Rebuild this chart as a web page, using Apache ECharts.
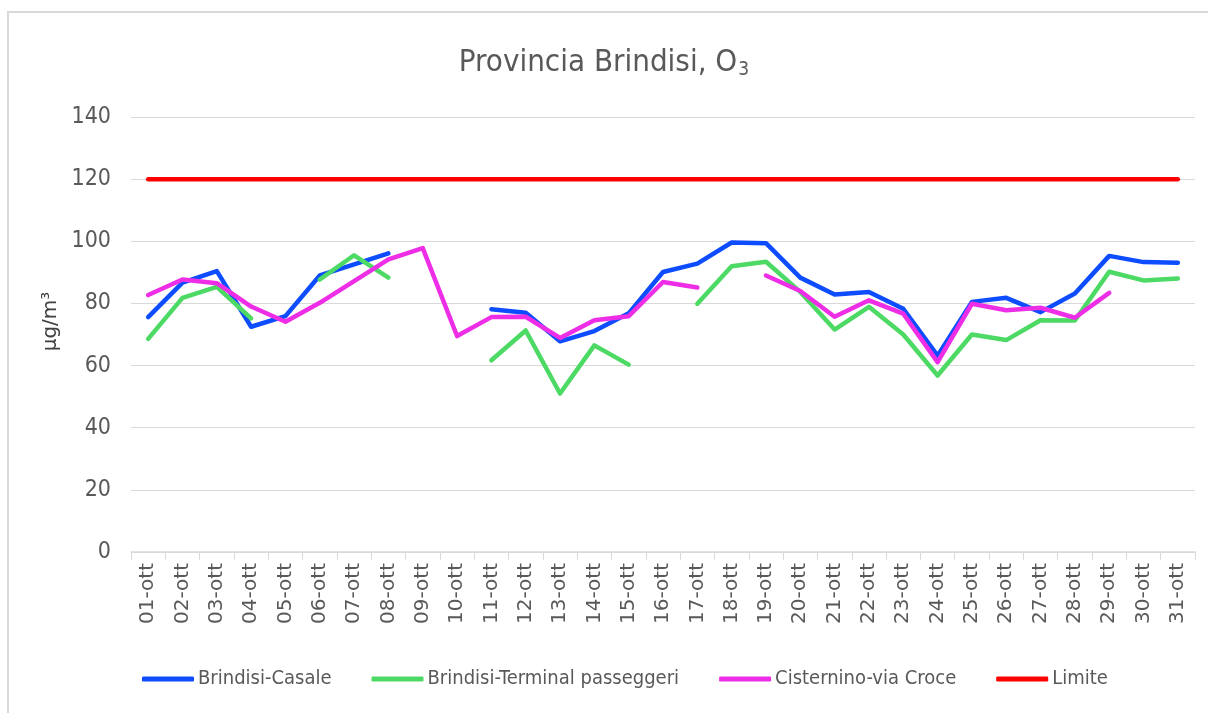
<!DOCTYPE html>
<html>
<head>
    <meta charset="utf-8">
    <title>Provincia Brindisi, O3</title>
    <script src="https://cdn.jsdelivr.net/npm/echarts@6/dist/echarts.min.js"></script>
    <style>
        html, body { margin: 0; padding: 0; background: #fff; }
        #main { width: 1208px; height: 713px; }
    </style>
</head>
<body>
<div id="main"></div>
<script type="text/javascript">
    // giorni di ottobre
    var days = ['01-ott', '02-ott', '03-ott', '04-ott', '05-ott', '06-ott', '07-ott', '08-ott', '09-ott', '10-ott',
        '11-ott', '12-ott', '13-ott', '14-ott', '15-ott', '16-ott', '17-ott', '18-ott', '19-ott', '20-ott',
        '21-ott', '22-ott', '23-ott', '24-ott', '25-ott', '26-ott', '27-ott', '28-ott', '29-ott', '30-ott', '31-ott'];

    var brindisiCasale = [75.6, 86.7, 90.4, 72.5, 75.9, 89, 92.6, 96.1, null, null,
        78.1, 77, 67.8, 71.1, 76.8, 90.1, 92.8, 99.6, 99.4, 88.3,
        82.9, 83.7, 78.3, 63.2, 80.5, 81.8, 77.2, 83.2, 95.3, 93.3, 93.1];

    var brindisiTerminal = [68.6, 81.8, 85.3, 75.2, null, 87.7, 95.5, 88.3, null, null,
        61.7, 71.3, 51, 66.5, 60.3, null, 79.9, 92, 93.4, 83.7,
        71.6, 78.9, 70, 56.8, 70, 68.2, 74.6, 74.5, 90.2, 87.4, 88];

    var cisternino = [82.7, 87.7, 86.5, 79, 74.1, 80.2, 87.2, 94.2, 97.8, 69.5,
        75.6, 75.7, 68.9, 74.6, 75.9, 86.9, 85.1, null, 89, 84,
        75.7, 81, 76.7, 61.1, 79.9, 77.8, 78.6, 75.4, 83.4, null, null];

    var limite = days.map(function () { return 120; });

    var narrow = "'Liberation Sans Narrow', 'DejaVu Sans Condensed', 'Open Sans', sans-serif";
    var wide = "'DejaVu Sans', sans-serif";

    function lineSeries(name, data, color) {
        return {
            name: name,
            type: 'line',
            data: data,
            symbol: 'none',
            connectNulls: false,
            lineStyle: { color: color, width: 4.5, cap: 'round', join: 'round' },
            itemStyle: { color: color }
        };
    }

    var chart = echarts.init(document.getElementById('main'));
    chart.setOption({
        animation: false,
        backgroundColor: '#fff',
        textStyle: { fontFamily: narrow },
        title: {
            text: 'Provincia Brindisi, O{sub|3}',
            left: 'center',
            top: 40,
            textStyle: {
                fontFamily: narrow,
                fontSize: 31,
                fontWeight: 'normal',
                color: '#595959',
                rich: {
                    sub: { fontFamily: narrow, fontSize: 19, color: '#595959', verticalAlign: 'bottom', padding: [16, 0, 0, 1] }
                }
            }
        },
        legend: {
            bottom: 19,
            left: 137,
            itemWidth: 52,
            itemHeight: 5,
            itemGap: 40,
            icon: 'roundRect',
            textStyle: { fontFamily: narrow, fontSize: 20, color: '#595959', padding: [0, 0, 0, -1] },
            data: ['Brindisi-Casale', 'Brindisi-Terminal passeggeri', 'Cisternino-via Croce', 'Limite']
        },
        grid: { left: 131, right: 13, top: 117, bottom: 161 },
        xAxis: {
            type: 'category',
            data: days,
            boundaryGap: true,
            axisLine: { lineStyle: { color: '#d9d9d9', width: 1.5 } },
            axisTick: { show: true, length: 8, interval: 0, lineStyle: { color: '#d9d9d9' } },
            axisLabel: { rotate: 90, interval: 0, fontSize: 20, color: '#595959', margin: 11, fontFamily: wide }
        },
        yAxis: {
            type: 'value',
            min: 0,
            max: 140,
            interval: 20,
            name: 'µg/m³',
            nameLocation: 'middle',
            nameGap: 58,
            nameRotate: 90,
            nameTextStyle: { fontSize: 20, color: '#404040', fontFamily: wide, padding: [0, 0, 0, 26] },
            axisLine: { show: false },
            axisTick: { show: false },
            axisLabel: { fontSize: 23, color: '#595959', margin: 20, fontFamily: narrow },
            splitLine: { lineStyle: { color: '#d9d9d9', width: 1 } }
        },
        graphic: [
            { type: 'rect', shape: { x: 8, y: 11, width: 1200, height: 2 }, style: { fill: '#d9d9d9' } },
            { type: 'rect', shape: { x: 7, y: 11, width: 2, height: 702 }, style: { fill: '#d9d9d9' } }
        ],
        series: [
            lineSeries('Brindisi-Casale', brindisiCasale, '#0d4dff'),
            lineSeries('Brindisi-Terminal passeggeri', brindisiTerminal, '#4cd964'),
            lineSeries('Cisternino-via Croce', cisternino, '#ee2ee6'),
            lineSeries('Limite', limite, '#ff0000')
        ]
    });
</script>
</body>
</html>
